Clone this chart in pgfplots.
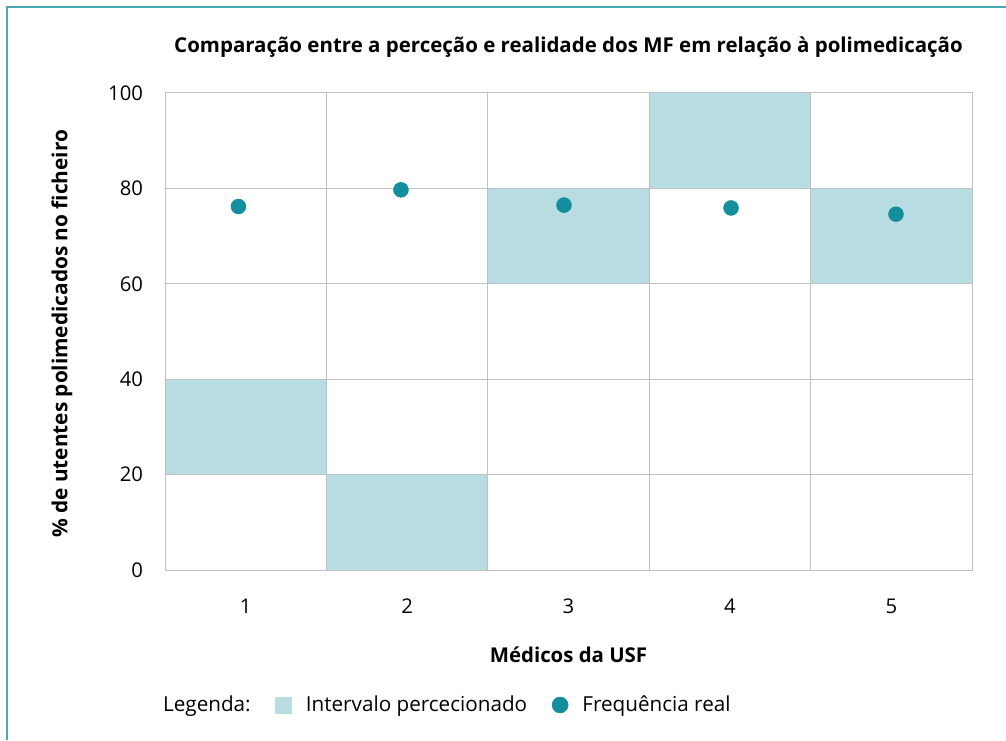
\documentclass[border=0pt]{standalone}
\usepackage{pgfplots}
\pgfplotsset{compat=1.18}
\usepackage{fontspec}
\setmainfont{Open Sans}
\definecolor{boxc}{HTML}{B7DDE3}
\definecolor{dotc}{HTML}{138E9C}
\definecolor{framec}{HTML}{4BA8B5}
\definecolor{gridc}{HTML}{C0C0C0}
\begin{document}
\begin{tikzpicture}
\path[use as bounding box] (0,0) rectangle (754.5pt,555pt);
\draw[framec, line width=1.5pt] (5.25pt,0) -- (5.25pt,549.75pt) -- (754.5pt,549.75pt);
\begin{axis}[
  at={(123.75pt,127.5pt)}, anchor=south west,
  scale only axis, width=605.25pt, height=357.75pt,
  xmin=0.5, xmax=5.5, ymin=0, ymax=100,
  xtick={1,2,3,4,5}, ytick={0,20,40,60,80,100},
  minor xtick={0.5,1.5,2.5,3.5,4.5,5.5},
  xminorgrids, ymajorgrids,
  axis on top,
  grid style={gridc, line width=0.75pt},
  minor grid style={gridc, line width=0.75pt},
  axis line style={gridc, line width=0.75pt},
  major tick length=0pt, minor tick length=0pt,
  tick label style={font=\fontsize{15.2}{18}\selectfont, text=black},
  /pgf/number format/assume math mode=true,
  xticklabel style={anchor=north, yshift=-18pt},
  yticklabel style={anchor=east, xshift=-13pt},
  title={Comparação entre a perceção e realidade dos MF em relação à polimedicação},
  title style={at={(0.5,1.08)}, anchor=center, font=\bfseries\fontsize{15.35}{18}\selectfont},
  xlabel={Médicos da USF},
  xlabel style={at={(0.5,-0.178)}, anchor=center, font=\bfseries\fontsize{15.3}{18}\selectfont},
  ylabel={\% de utentes polimedicados no ficheiro},
  ylabel style={at={(-0.1276,0.495)}, anchor=center, rotate=0, font=\bfseries\fontsize{15.6}{18}\selectfont},
  legend columns=3,
  legend style={at={(-0.02,-0.283)}, anchor=west, draw=none, fill=none, inner sep=0pt,
    font=\fontsize{15.5}{18}\selectfont,
    nodes={inner sep=0pt},
    /tikz/every odd column/.append style={column sep=10.5pt},
    /tikz/every even column/.append style={column sep=18.5pt}},
]
\addplot[fill=boxc, draw=none, forget plot] coordinates {(0.5,20) (1.5,20) (1.5,40) (0.5,40)} -- cycle;
\addplot[fill=boxc, draw=none, forget plot] coordinates {(1.5,0) (2.5,0) (2.5,20) (1.5,20)} -- cycle;
\addplot[fill=boxc, draw=none, forget plot] coordinates {(2.5,60) (3.5,60) (3.5,80) (2.5,80)} -- cycle;
\addplot[fill=boxc, draw=none, forget plot] coordinates {(3.5,80) (4.5,80) (4.5,100) (3.5,100)} -- cycle;
\addplot[fill=boxc, draw=none, forget plot] coordinates {(4.5,60) (5.5,60) (5.5,80) (4.5,80)} -- cycle;
\addplot[only marks, mark=*, mark size=5.6pt, mark options={fill=dotc, draw=dotc}, forget plot]
  coordinates {(0.955,76.2) (1.962,79.7) (2.972,76.5) (4.007,75.9) (5.029,74.6)};
\addlegendimage{empty legend}
\addlegendentry{Legenda:}
\addlegendimage{legend image code/.code={\fill[boxc] (0pt,-6pt) rectangle (12pt,6pt);}}
\addlegendentry{Intervalo percecionado}
\addlegendimage{legend image code/.code={\fill[dotc] (6pt,0pt) circle (6pt);}}
\addlegendentry{Frequência real}
\end{axis}
\end{tikzpicture}
\end{document}
